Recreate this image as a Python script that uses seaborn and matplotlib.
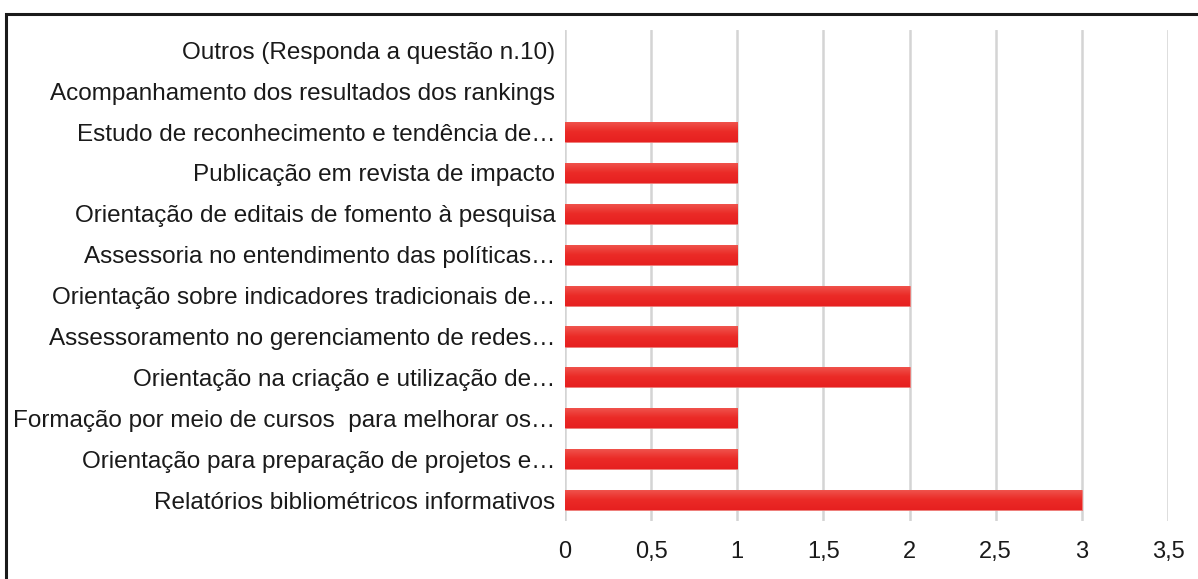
import numpy as np
import pandas as pd
import matplotlib
matplotlib.use("Agg")
import matplotlib.pyplot as plt
import matplotlib.patches as mpatches
from matplotlib.colors import LinearSegmentedColormap
from matplotlib.ticker import FuncFormatter
import seaborn as sns

categories = [
    "Outros (Responda a questão n.10)",
    "Acompanhamento dos resultados dos rankings",
    "Estudo de reconhecimento e tendência de…",
    "Publicação em revista de impacto",
    "Orientação de editais de fomento à pesquisa",
    "Assessoria no entendimento das políticas…",
    "Orientação sobre indicadores tradicionais de…",
    "Assessoramento no gerenciamento de redes…",
    "Orientação na criação e utilização de…",
    "Formação por meio de cursos  para melhorar os…",
    "Orientação para preparação de projetos e…",
    "Relatórios bibliométricos informativos",
]
values = [0, 0, 1, 1, 1, 1, 2, 1, 2, 1, 1, 3]
xticks = [0, 0.5, 1, 1.5, 2, 2.5, 3, 3.5]

sns.set_style("white")
plt.rcParams["font.family"] = ["Liberation Sans", "DejaVu Sans"]

df = pd.DataFrame({"cat": categories, "val": values})

fig = plt.figure(figsize=(11.98, 5.79), dpi=100)
ax = fig.add_axes([565 / 1198, 1 - 520.5 / 579, (1168 - 565) / 1198, (520.5 - 29.8) / 579])

sns.barplot(data=df, y="cat", x="val", orient="h", color="#EA2A26",
            width=0.49, ax=ax, edgecolor="#F07A76", linewidth=0.6, zorder=3)

# vertical gradient on bars
cmap = LinearSegmentedColormap.from_list("g", ["#F0564F", "#EB2B27", "#E62020"])
grad = np.linspace(0, 1, 64).reshape(-1, 1)
for p in ax.patches:
    w = p.get_width()
    if w <= 0:
        p.set_linewidth(0)
        p.set_visible(False)
        continue
    x0, y0 = p.get_x(), p.get_y()
    h = p.get_height()
    im = ax.imshow(grad, cmap=cmap, aspect="auto",
                   extent=(x0, x0 + w, y0 + h, y0), zorder=3.5,
                   origin="upper")
    im.set_clip_path(p)

ax.set_xlim(0, 3.5)
ax.set_ylim(len(categories) - 0.5, -0.5)
ax.set_xticks(xticks)
ax.xaxis.set_major_formatter(FuncFormatter(lambda v, pos: (f"{v:g}").replace(".", ",")))
ax.grid(axis="x", color="#D4D4D4", linewidth=1.8, zorder=0)
ax.grid(axis="y", visible=False)
for s in ax.spines.values():
    s.set_visible(False)
ax.set_xlabel("")
ax.set_ylabel("")
ax.tick_params(axis="y", length=0, pad=7, labelsize=17.5, labelcolor="#1a1a1a")
ax.tick_params(axis="x", length=0, pad=15, labelsize=17, labelcolor="#1a1a1a")

# figure frame (cut off at right and bottom like the reference)
frame = mpatches.Rectangle((6 / 1198, -0.05), 1.1, 1 - 13.5 / 579 + 0.05,
                           transform=fig.transFigure, fill=False,
                           edgecolor="#1a1a1a", linewidth=2.2, clip_on=False)
fig.patches.append(frame)

fig.savefig("out.png", dpi=100)
